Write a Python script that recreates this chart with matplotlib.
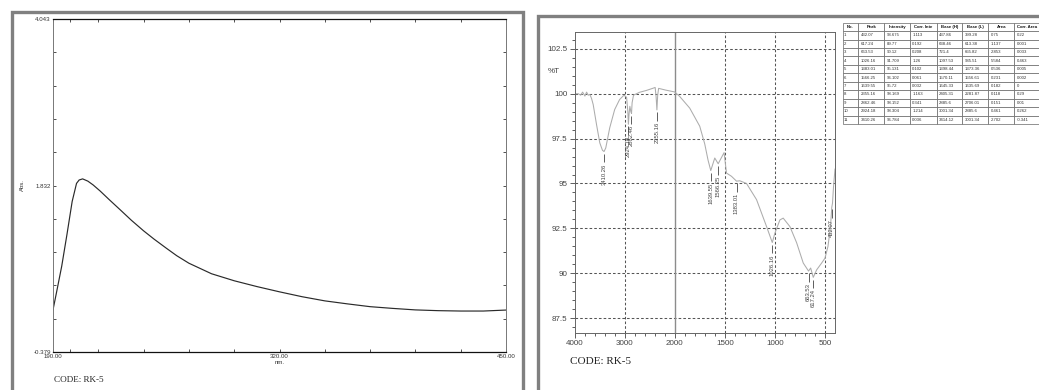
import numpy as np
import matplotlib
matplotlib.use("Agg")
import matplotlib.pyplot as plt
from matplotlib.patches import Rectangle
from matplotlib.ticker import FixedLocator, NullFormatter
import matplotlib.transforms as mtransforms

plt.rcParams['font.family'] = ['Liberation Sans', 'DejaVu Sans']

# UV-vis spectrum (left panel)
uv_nm = [190, 192, 195, 198, 201, 203.5, 205, 207, 210, 213, 217, 222, 229, 235, 242, 248, 255,
         261, 268, 281, 294, 307, 320, 333, 346, 359, 372, 385, 398, 411, 424, 437, 450]
uv_abs = [0.18, 0.41, 0.76, 1.18, 1.62, 1.86, 1.905, 1.92, 1.89, 1.84, 1.76, 1.65, 1.50, 1.37, 1.23, 1.12, 1.00,
          0.90, 0.80, 0.66, 0.567, 0.49, 0.42, 0.355, 0.30, 0.26, 0.223, 0.20, 0.18, 0.17, 0.165, 0.165, 0.178]
uv_yticks = [-0.379, 1.832, 4.043]
uv_xticks = [190, 320, 450]

# FTIR spectrum (right panel)
ir_wn = [4000, 3924, 3878, 3838, 3792, 3759, 3726, 3693, 3660, 3627, 3560, 3495, 3442, 3410,
         3376, 3297, 3198, 3099, 3013, 2960, 2935, 2924, 2910, 2895, 2875, 2862, 2850, 2822,
         2703, 2570, 2440, 2390, 2370, 2355, 2340, 2321, 2175, 2000, 1950, 1850, 1750, 1700,
         1667, 1640, 1600, 1566, 1507, 1483, 1433, 1383, 1350, 1283, 1183, 1083, 1026, 1000,
         950, 917, 850, 783, 717, 664, 643, 617, 583, 533, 500, 470, 445, 432, 425, 415, 400]
ir_t = [100.0, 100.0, 99.92, 100.09, 99.87, 100.09, 99.92, 99.96, 99.74, 99.40, 98.28, 97.26, 96.85, 96.78,
        96.98, 98.10, 99.12, 99.68, 99.92, 99.8, 99.0, 98.30, 98.9, 99.3, 99.0, 98.9, 99.5, 99.92,
        100.08, 100.18, 100.30, 100.35, 99.8, 99.1, 99.9, 100.30, 100.20, 100.1, 99.85, 99.2, 98.19, 97.2,
        96.3, 95.72, 96.42, 96.10, 96.72, 95.58, 95.40, 95.13, 95.15, 95.0, 94.1, 92.6, 91.71, 92.23,
        92.97, 93.07, 92.60, 91.70, 90.57, 90.12, 90.29, 89.77, 90.19, 90.57, 90.84, 91.5, 92.6, 93.675,
        93.9, 94.8, 95.8]
ir_yticks = [87.5, 90, 92.5, 95, 97.5, 100, 102.5]
ir_xticks = [4000, 3000, 2000, 1500, 1000, 500]

peak_wn = [3410.26, 2924.18, 2862.46, 2355.16, 1639.55, 1566.25, 1383.01, 1026.16, 663.53, 617.24, 432.07]
peak_t = [96.78, 98.30, 98.9, 99.1, 95.72, 96.10, 95.13, 91.71, 90.12, 89.77, 93.675]

col_labels = ["No.", "Peak", "Intensity", "Corr. Inte", "Base (H)", "Base (L)", "Area", "Corr. Area"]
tab_no = ["1", "2", "3", "4", "5", "6", "7", "8", "9", "10", "11"]
tab_peak = ["432.07", "617.24", "663.53", "1026.16", "1383.01", "1566.25", "1639.55",
            "2355.16", "2862.46", "2924.18", "3410.26"]
tab_int = ["93.675", "89.77", "90.12", "91.709", "95.131", "96.102", "95.72",
           "98.169", "98.152", "98.304", "96.784"]
tab_corr_int = ["1.113", "0.192", "0.208", "1.26", "0.102", "0.061", "0.032",
                "1.163", "0.341", "1.214", "0.036"]
tab_base_h = ["437.86", "638.46", "721.4", "1097.53", "1398.44", "1570.11", "1645.33",
              "2405.31", "2885.6", "3001.34", "3414.12"]
tab_base_l = ["399.28", "613.38", "655.82", "935.51", "1373.36", "1556.61", "1635.69",
              "2281.87", "2706.01", "2885.6", "3001.34"]
tab_area = ["0.75", "1.137", "2.853", "5.584", "0.536", "0.231", "0.182",
            "0.118", "0.151", "0.461", "2.702"]
tab_corr_area = ["0.22", "0.001", "0.033", "0.463", "0.005", "0.002", "0",
                 "0.29", "0.01", "0.262", "-0.341"]

W, H = 1039, 390
fig = plt.figure(figsize=(W / 100, H / 100), dpi=100)

# panel frames
fig.add_artist(Rectangle((11.5 / W, -0.1), 511.5 / W, 1.1 - 11.7 / H, transform=fig.transFigure,
                         fill=False, lw=2.4, ec='#808080'))
fig.add_artist(Rectangle((538.3 / W, -0.1), 0.6, 1.1 - 15.7 / H, transform=fig.transFigure,
                         fill=False, lw=2.4, ec='#808080'))

# ---- left: UV-vis ----
ax1 = fig.add_axes([53 / W, 1 - 352 / H, 453 / W, 333 / H])
ax1.plot(uv_nm, uv_abs, color='#2a2a2a', lw=0.85)
ax1.set_xlim(190, 450)
ax1.set_ylim(-0.379, 4.043)
ax1.set_xticks(uv_xticks)
ax1.set_xticklabels(["%.2f" % v for v in uv_xticks])
ax1.set_yticks(uv_yticks)
ax1.set_yticklabels(["%.3f" % v for v in uv_yticks])
ax1.xaxis.set_minor_locator(FixedLocator([200] + [190 + 26 * k for k in range(1, 10)]))
ax1.yaxis.set_minor_locator(FixedLocator([-0.379 + 0.4422 * k for k in range(1, 10)]))
ax1.tick_params(which='both', direction='in', top=True, right=True, length=2.5, width=0.6,
                labelsize=4.4, pad=1.5, colors='#333333')
for s in ['top', 'bottom']:
    ax1.spines[s].set_color('#111111')
    ax1.spines[s].set_linewidth(0.9)
for s in ['left', 'right']:
    ax1.spines[s].set_color('#777777')
    ax1.spines[s].set_linewidth(0.7)
ax1.set_ylabel("Abs.", fontsize=4.3, labelpad=6, color='#333333')
ax1.set_xlabel("nm.", fontsize=4.3, labelpad=1, color='#333333')
fig.text(54 / W, 1 - 380 / H, "CODE: RK-5", family='Liberation Serif', fontsize=6.6,
         va='center', ha='left', color='#222222')

# ---- right: FTIR ----
def fwd(x):
    x = np.asarray(x, dtype=float)
    return np.where(x <= 2000, x, 2000 + (x - 2000) / 2)


def inv(u):
    u = np.asarray(u, dtype=float)
    return np.where(u <= 2000, u, 2000 + (u - 2000) * 2)


ax2 = fig.add_axes([574.5 / W, 1 - 333 / H, 260.5 / W, 301 / H])
ax2.set_xscale('function', functions=(fwd, inv))
ax2.set_xlim(4000, 400)
ax2.set_ylim(86.67, 103.44)

grid_kw = dict(color='#555555', lw=0.75, ls=(0, (2.5, 2)))
for v in ir_yticks:
    ax2.axhline(v, **grid_kw, zorder=1)
for v in [3000, 1500, 1000, 500]:
    ax2.axvline(v, **grid_kw, zorder=1)
ax2.axvline(2000, color='#8c8c8c', lw=1.0, zorder=1)

ax2.plot(ir_wn, ir_t, color='#acacac', lw=0.75, zorder=2)

for wn, t in zip(peak_wn, peak_t):
    ax2.vlines(wn, t - 0.6, t - 0.12, color='#444444', lw=0.6, zorder=3)
    ax2.text(wn, t - 0.66, "%.2f" % wn, rotation=90, ha='center', va='top',
             fontsize=4.2, color='#444444', zorder=3)

ax2.set_xticks(ir_xticks)
ax2.set_xticklabels([str(v) for v in ir_xticks])
ax2.set_yticks(ir_yticks)
ax2.set_yticklabels([("%g" % v) for v in ir_yticks])
ax2.xaxis.set_minor_locator(FixedLocator(list(range(3800, 2000, -200)) + list(range(1900, 400, -100))))
ax2.yaxis.set_minor_locator(FixedLocator(list(np.arange(87.0, 103.5, 0.5))))
ax2.xaxis.set_minor_formatter(NullFormatter())
ax2.tick_params(which='major', direction='out', length=3.5, width=0.6, labelsize=5.8,
                pad=1.5, colors='#444444')
ax2.tick_params(which='minor', direction='out', length=2.2, width=0.6, colors='#444444')
for s in ax2.spines.values():
    s.set_color('#666666')
    s.set_linewidth(0.7)
trans = mtransforms.blended_transform_factory(ax2.transAxes, ax2.transData)
ax2.text(-0.055, 101.25, "%T", transform=trans, ha='right', va='center', fontsize=5.8,
         color='#444444')
fig.text(570 / W, 1 - 362 / H, "CODE: RK-5", family='Liberation Serif', fontsize=8,
         va='center', ha='left', color='#222222')

# ---- peak table ----
rows = list(zip(tab_no, tab_peak, tab_int, tab_corr_int, tab_base_h, tab_base_l, tab_area, tab_corr_area))
widths = [15.6, 26, 25.7, 26.7, 25.6, 26, 26, 26]
tw = sum(widths)
axt = fig.add_axes([842.7 / W, 1 - 124 / H, tw / W, 101.3 / H])
axt.axis('off')
tab = axt.table(cellText=[list(r) for r in rows], colLabels=col_labels,
                colWidths=[w / tw for w in widths], cellLoc='left', bbox=[0, 0, 1, 1])
tab.auto_set_font_size(False)
for (r, c), cell in tab.get_celld().items():
    cell.set_edgecolor('#666666')
    cell.set_linewidth(0.5)
    cell.PAD = 0.08
    cell.get_text().set_fontsize(3.1)
    cell.get_text().set_color('#333333')
    if r == 0:
        cell.get_text().set_fontweight('bold')
        cell.get_text().set_color('#111111')

fig.savefig("out.png", dpi=100)
